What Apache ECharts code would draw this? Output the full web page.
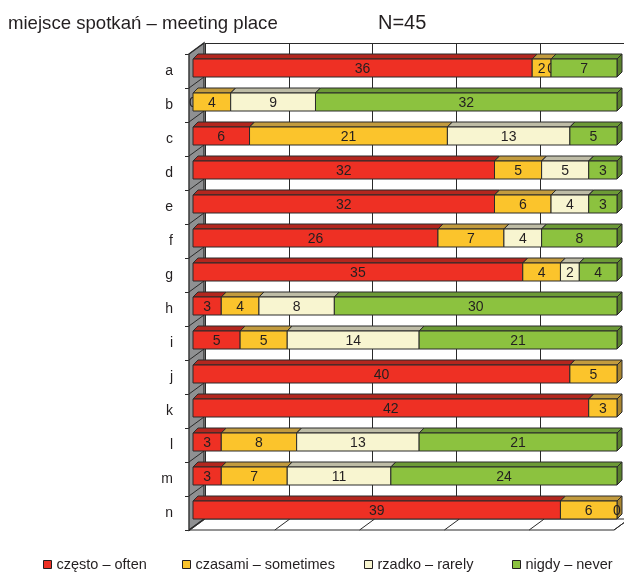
<!DOCTYPE html>
<html>
<head>
<meta charset="utf-8">
<script src="https://cdn.jsdelivr.net/npm/echarts@6/dist/echarts.min.js"></script>
<style>
  html, body { margin: 0; padding: 0; background: #fff; }
  #chart { width: 624px; height: 572px; }
</style>
</head>
<body>
<div id="chart"></div>
<script>
// Survey answers per item (N = 45); null = no answer recorded (no label drawn)
const categories = ['a', 'b', 'c', 'd', 'e', 'f', 'g', 'h', 'i', 'j', 'k', 'l', 'm', 'n'];
const often     = [36, 0, 6, 32, 32, 26, 35, 3, 5, 40, 42, 3, 3, 39];
const sometimes = [2, 4, 21, 5, 6, 7, 4, 4, 5, 5, 3, 8, 7, 6];
const rarely    = [0, 9, 13, 5, 4, 4, 2, 8, 14, null, null, 13, 11, 0];
const never     = [7, 32, 5, 3, 3, 8, 4, 30, 21, null, null, 21, 24, null];
const seriesNames = ['często – often', 'czasami – sometimes', 'rzadko – rarely', 'nigdy – never'];
const axisMax = 45;
const axisStep = 9;

const FONT = '"Liberation Sans", Arial, sans-serif';
const INK = '#231F20';
const DX = 15, DY = -11;   // depth of the chart box
const BX = 5, BY = -5;     // depth of a single bar

const palettes = [
  { front: '#EE3024', top: '#B3261E', side: '#9A1F19' },
  { front: '#FBC42C', top: '#C29B3E', side: '#A98630' },
  { front: '#F8F5D0', top: '#BEBCA6', side: '#A6A48F' },
  { front: '#8CC23F', top: '#6C9A36', side: '#5A812D' }
];

// Build stacked segments [start, end, categoryIndex, value]
const allValues = [often, sometimes, rarely, never];
const offsets = categories.map(() => 0);
const segments = allValues.map(values => {
  const rows = [];
  values.forEach((v, i) => {
    if (v === null) return;
    rows.push([offsets[i], offsets[i] + v, i, v]);
    offsets[i] += v;
  });
  return rows;
});

function barRenderer(pal) {
  return function (params, api) {
    const start = api.value(0), end = api.value(1), idx = api.value(2), val = api.value(3);
    const pa = api.coord([start, idx]);
    const pb = api.coord([end, idx]);
    const band = api.size([0, 1])[1];
    const yTop = pa[1] - band / 2 + 5;
    const yBot = yTop + 18;
    const x0 = pa[0] + 3, x1 = pb[0] + 3;
    const edge = { stroke: '#2A2A2A', lineWidth: 1 };
    const children = [];
    if (x1 - x0 > 0.5) {
      children.push({
        type: 'polygon',
        shape: { points: [[x0, yTop], [x1, yTop], [x1 + BX, yTop + BY], [x0 + BX, yTop + BY]] },
        style: Object.assign({ fill: pal.top }, edge)
      });
      children.push({
        type: 'polygon',
        shape: { points: [[x1, yTop], [x1 + BX, yTop + BY], [x1 + BX, yBot + BY], [x1, yBot]] },
        style: Object.assign({ fill: pal.side }, edge)
      });
      children.push({
        type: 'rect',
        shape: { x: x0, y: yTop, width: x1 - x0, height: yBot - yTop },
        style: Object.assign({ fill: pal.front }, edge)
      });
    }
    children.push({
      type: 'text',
      x: (x0 + x1) / 2,
      y: (yTop + yBot) / 2 + 1,
      style: { text: String(val), fill: INK, font: '14px ' + FONT, align: 'center', verticalAlign: 'middle' }
    });
    return { type: 'group', children: children };
  };
}

// Side wall and floor of the 3D box
function boxRenderer(params, api) {
  const band = api.size([0, 1])[1];
  const topY = api.coord([0, 0])[1] - band / 2;
  const botY = api.coord([0, categories.length - 1])[1] + band / 2;
  const xL = api.coord([0, 0])[0] - 1;
  const xR = api.coord([axisMax, 0])[0];
  const line = { stroke: '#2A2A2A', lineWidth: 1 };
  const children = [];
  // floor
  children.push({
    type: 'polygon',
    shape: { points: [[xL, botY], [xR, botY], [xR + DX, botY + DY], [xL + DX, botY + DY]] },
    style: Object.assign({ fill: '#fff' }, line)
  });
  for (let v = 0; v <= axisMax; v += axisStep) {
    const x = api.coord([v, 0])[0];
    children.push({
      type: 'line',
      shape: { x1: x, y1: botY, x2: x + DX, y2: botY + DY },
      style: line
    });
  }
  // left wall
  children.push({
    type: 'polygon',
    shape: { points: [[xL, topY], [xL + DX, topY + DY], [xL + DX, botY + DY], [xL, botY]] },
    style: { fill: '#8F9092', stroke: '#3A3A3A', lineWidth: 1.5 }
  });
  for (let i = 0; i <= categories.length; i++) {
    const y = topY + band * i;
    children.push({
      type: 'line',
      shape: { x1: xL, y1: y, x2: xL + DX, y2: y + DY },
      style: line
    });
  }
  return { type: 'group', children: children };
}

const chart = echarts.init(document.getElementById('chart'), null, { renderer: 'canvas' });

const option = {
  backgroundColor: '#fff',
  animation: false,
  title: [
    { text: 'miejsce spotkań – meeting place', left: 8, top: 14, padding: 0,
      textStyle: { fontSize: 18.6, fontWeight: 'normal', color: INK, fontFamily: FONT } },
    { text: 'N=45', left: 378, top: 13, padding: 0,
      textStyle: { fontSize: 20, fontWeight: 'normal', color: INK, fontFamily: FONT } }
  ],
  legend: seriesNames.map((name, i) => ({
    data: [name],
    left: [43, 182, 364, 512][i],
    top: 557,
    padding: 0,
    itemWidth: 8,
    itemHeight: 8,
    icon: 'rect',
    selectedMode: false,
    itemStyle: { borderColor: INK, borderWidth: 1 },
    textStyle: { fontSize: 14.5, color: INK, fontFamily: FONT }
  })),
  grid: [
    { left: 190, top: 54, width: 424, height: 476 },
    { left: 205, top: 43, width: 424, height: 476 }
  ],
  xAxis: [
    { gridIndex: 0, type: 'value', min: 0, max: axisMax, interval: axisStep,
      axisLine: { show: false }, axisTick: { show: false }, axisLabel: { show: false },
      splitLine: { show: false } },
    { gridIndex: 1, type: 'value', min: 0, max: axisMax, interval: axisStep, position: 'top',
      axisLine: { show: true, lineStyle: { color: '#2A2A2A', width: 1 } },
      axisTick: { show: false }, axisLabel: { show: false },
      splitLine: { show: true, lineStyle: { color: '#2A2A2A', width: 1 } } }
  ],
  yAxis: [
    { gridIndex: 0, type: 'category', data: categories, inverse: true,
      axisLine: { show: false },
      axisTick: { show: true, length: 5, lineStyle: { color: '#2A2A2A' } },
      axisLabel: { margin: 17, fontSize: 14, color: INK, fontFamily: FONT } },
    { gridIndex: 1, type: 'category', data: categories, inverse: true, show: false }
  ],
  series: [
    {
      type: 'custom', name: 'box', xAxisIndex: 0, yAxisIndex: 0, z: 1,
      silent: true, data: [[0, 0]], renderItem: boxRenderer
    }
  ].concat(segments.map((rows, i) => ({
    type: 'custom',
    name: seriesNames[i],
    xAxisIndex: 0,
    yAxisIndex: 0,
    z: 3,
    itemStyle: { color: palettes[i].front },
    encode: { x: [0, 1], y: 2 },
    data: rows,
    renderItem: barRenderer(palettes[i])
  })))
};

chart.setOption(option);
</script>
</body>
</html>
